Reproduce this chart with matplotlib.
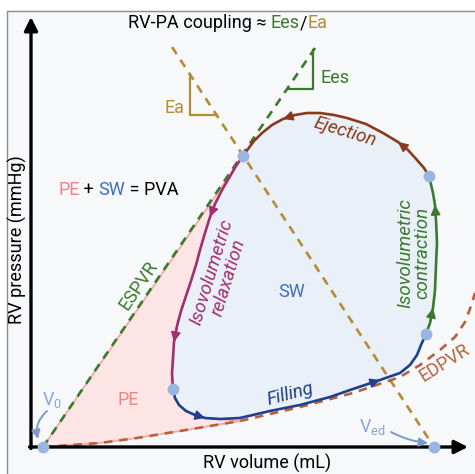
import numpy as np
import matplotlib
matplotlib.use("Agg")
import matplotlib.pyplot as plt
from matplotlib.patches import Polygon, Rectangle

plt.rcParams['font.family'] = ['Roboto', 'DejaVu Sans']
plt.rcParams['mathtext.fontset'] = 'custom'
plt.rcParams['mathtext.rm'] = 'Roboto'

# PV loop segments (volume, pressure) in schematic units
ej_v = [398, 393, 386, 377, 367, 352, 335, 316, 303, 289, 276, 264, 252, 241, 231, 223, 217, 212]
ej_p = [271, 279, 287, 297, 305, 314, 323, 329, 332, 334, 334, 332, 328, 322, 314, 306, 298, 291]

rel_v = [212, 205, 198, 191, 184, 179, 174, 169, 165, 160, 155, 150, 146, 143, 142, 141, 142]
rel_p = [291, 281, 269, 257, 243, 230, 214, 197, 182, 166, 151, 136, 121, 105, 89, 73, 58]

fill_v = [142, 144, 148, 155, 164, 174, 189, 209, 239, 269, 299, 322, 349, 369, 379, 386, 390, 395]
fill_p = [58, 49, 42, 36, 32, 29, 28, 29, 36, 42, 50, 58, 67, 74, 82, 92, 102, 113]

con_v = [395, 399, 402, 404, 405, 406, 405, 404, 402, 398]
con_p = [113, 124, 139, 157, 182, 204, 227, 242, 254, 271]

# pressure-volume relations
edpvr_v = [12, 69, 106, 149, 209, 269, 322, 369, 389, 409, 424, 434, 440, 444]
edpvr_p = [0, 4, 9, 16, 26, 40, 54, 70, 82, 97, 110, 125, 141, 154]
espvr_v = [12, 284]
espvr_p = [0, 399]
ea_v = [141, 403]
ea_p = [400, 0]

# key points: V0, Ved, end-systole, start ejection, end-diastole, start filling
pt_v = [12, 403, 212, 398, 395, 142]
pt_p = [0, 0, 291, 271, 113, 58]

GREEN = '#3b7a2c'
GOLD = '#b48c34'
BROWN = '#8a3a1c'
EDC = '#b4623e'
MAGENTA = '#a3306e'
NAVY = '#213f8c'
SWB = '#3d6fc4'
PINK = '#ea8585'
PTC = '#9ab5e2'
VLAB = '#8aa5d8'

fig = plt.figure(figsize=(4.75, 4.74), dpi=100)
ax = fig.add_axes([0, 0, 1, 1])
ax.set_xlim(-31, 444)
ax.set_ylim(-27, 447)
ax.axis('off')

# panel frame + background
ax.add_patch(Rectangle((-24, -40), 480, 476, facecolor='#f6f8fa', edgecolor='#8c8c8c', lw=1, zorder=0))

# SW area (loop interior)
loop_v = ej_v + rel_v + fill_v + con_v
loop_p = ej_p + rel_p + fill_p + con_p
ax.add_patch(Polygon(np.column_stack([loop_v, loop_p]), closed=True, facecolor='#e9f0f8', edgecolor='none', zorder=1))

# PE area
pe_v = [espvr_v[0]] + rel_v + fill_v[:7] + edpvr_v[4::-1]
pe_p = [espvr_p[0]] + rel_p + fill_p[:7] + edpvr_p[4::-1]
ax.add_patch(Polygon(np.column_stack([pe_v, pe_p]), closed=True, facecolor='#fde5e5', edgecolor='#f1aaaa', lw=1.3, zorder=1))

# ESPVR, Ea, EDPVR dashed lines
dash = (0, (3.2, 2.6))
ax.plot(espvr_v, espvr_p, color=GREEN, lw=1.9, ls=dash, zorder=3)
ax.plot(ea_v, ea_p, color=GOLD, lw=1.9, ls=dash, zorder=3)
ax.plot(edpvr_v, edpvr_p, color=EDC, lw=1.9, ls=dash, zorder=3)

# Ees / Ea slope triangles
ax.plot([257, 282, 282], [358, 358, 397], color=GREEN, lw=1.6, zorder=3)
ax.plot([159, 159, 186], [372, 332, 332], color=GOLD, lw=1.6, zorder=3)

# loop segments
segs = [(ej_v, ej_p, BROWN, [3, 11]),
        (rel_v, rel_p, MAGENTA, [4, 12]),
        (fill_v, fill_p, NAVY, [4, 11]),
        (con_v, con_p, GREEN, [1, 6])]
for v, p, c, arr in segs:
    ax.plot(v, p, color=c, lw=1.9, solid_capstyle='round', solid_joinstyle='round', zorder=4)
    for i in arr:
        ax.annotate('', xy=(v[i + 1], p[i + 1]), xytext=(v[i], p[i]),
                    arrowprops=dict(arrowstyle='-|>', color=c, lw=1.3, mutation_scale=14,
                                    shrinkA=0, shrinkB=0), zorder=5)

# axes with arrows
ax.annotate('', xy=(0, 430), xytext=(0, -1.5),
            arrowprops=dict(arrowstyle='-|>', color='black', lw=2.4, mutation_scale=20, shrinkA=0, shrinkB=0))
ax.annotate('', xy=(437, 0), xytext=(-1.5, 0),
            arrowprops=dict(arrowstyle='-|>', color='black', lw=2.4, mutation_scale=20, shrinkA=0, shrinkB=0))

ax.plot(pt_v, pt_p, 'o', color=PTC, ms=8.5, mec='none', zorder=6)

# V0 / Ved pointers
ax.annotate('', xy=(7, 8), xytext=(16, 36),
            arrowprops=dict(arrowstyle='-|>', color='#7c98cc', lw=1.4, mutation_scale=13,
                            connectionstyle='arc3,rad=0.3', shrinkA=0, shrinkB=0))
ax.annotate('', xy=(397, 4), xytext=(360, 15),
            arrowprops=dict(arrowstyle='-|>', color='#7c98cc', lw=1.4, mutation_scale=13,
                            connectionstyle='arc3,rad=0.1', shrinkA=0, shrinkB=0))


def colored_text(x, y, parts, size):
    # place coloured pieces next to each other on one baseline
    fig.canvas.draw()
    r = fig.canvas.get_renderer()
    for s, c in parts:
        t = ax.text(x, y, s, color=c, fontsize=size, ha='left', va='baseline', zorder=7)
        bb = t.get_window_extent(renderer=r)
        x = ax.transData.inverted().transform((bb.x1, bb.y0))[0]


colored_text(97, 419, [('RV-PA coupling ≈ ', 'black'), ('Ees', GREEN), ('/', 'black'), ('Ea', GOLD)], 13)
colored_text(27, 252, [('PE', PINK), (' + ', 'black'), ('SW', SWB), (' = PVA', 'black')], 13)

ax.text(-14, 207, 'RV pressure (mmHg)', rotation=90, fontsize=13, ha='center', va='center')
ax.text(236, -16, 'RV volume (mL)', fontsize=13, ha='center', va='center')
ax.text(289, 369, 'Ees', color=GREEN, fontsize=13, ha='left', va='center')
ax.text(144, 339, 'Ea', color=GOLD, fontsize=13, ha='center', va='center')
ax.text(108, 161, 'ESPVR', color=GREEN, fontsize=13, rotation=56, ha='center', va='center')
ax.text(189, 172, 'Isovolumetric\nrelaxation', color=MAGENTA, fontsize=13.5, style='italic',
        rotation=73, ha='center', va='center', multialignment='center', linespacing=0.95)
ax.text(261, 155, 'SW', color=SWB, fontsize=13, ha='center', va='center')
ax.text(314, 315, 'Ejection', color=BROWN, fontsize=13.5, style='italic', rotation=-17, ha='center', va='center')
ax.text(383, 194, 'Isovolumetric\ncontraction', color=GREEN, fontsize=13.5, style='italic',
        rotation=90, ha='center', va='center', multialignment='center', linespacing=0.95)
ax.text(259, 53, 'Filling', color=NAVY, fontsize=13.5, style='italic', rotation=15, ha='center', va='center')
ax.text(414, 84, 'EDPVR', color=EDC, fontsize=13, rotation=32, ha='center', va='center')
ax.text(97, 47, 'PE', color=PINK, fontsize=13, ha='center', va='center')
ax.text(21, 47, r'V$_\mathrm{0}$', color=VLAB, fontsize=13, ha='center', va='center')
ax.text(341, 20, r'V$_\mathrm{ed}$', color=VLAB, fontsize=13, ha='center', va='center')

fig.savefig('out.png', dpi=100)
